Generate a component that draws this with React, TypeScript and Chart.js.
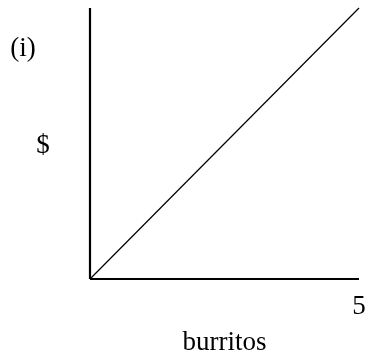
import React, { useEffect, useRef } from "react";
import { Chart, registerables } from "chart.js";

Chart.register(...registerables);

const quantity = [0, 5];
const cost = [0, 5];
const xTickLabel = "5";
const xTitle = "burritos";
const yTitle = "$";
const panelLabel = "(i)";

const FONT = "27px 'Liberation Serif', 'DejaVu Serif', serif";

const textPlugin = {
  id: "textLabels",
  afterDraw(chart: any) {
    const { ctx, chartArea, scales } = chart;
    const x = scales.x;
    ctx.save();
    ctx.fillStyle = "#000";
    ctx.font = FONT;
    ctx.textAlign = "center";
    ctx.textBaseline = "middle";
    ctx.fillText(xTickLabel, x.getPixelForValue(5), chartArea.bottom + 28);
    ctx.fillText(xTitle, (chartArea.left + chartArea.right) / 2, chartArea.bottom + 64);
    ctx.fillText(yTitle, chartArea.left - 47, chartArea.top + 138);
    ctx.fillText(panelLabel, chartArea.left - 67, chartArea.top + 41);
    ctx.restore();
  },
};

export default function App() {
  const ref = useRef<HTMLCanvasElement>(null);
  useEffect(() => {
    if (!ref.current) return;
    const chart = new Chart(ref.current, {
      type: "scatter",
      data: {
        datasets: [
          {
            data: quantity.map((q, i) => ({ x: q, y: cost[i] })),
            showLine: true,
            borderColor: "#000",
            borderWidth: 1.2,
            pointRadius: 0,
            clip: false as any,
          },
          {
            data: [
              { x: 0, y: 0 },
              { x: 0, y: 5 },
            ],
            showLine: true,
            borderColor: "#000",
            borderWidth: 2.2,
            pointRadius: 0,
            clip: false as any,
          },
          {
            data: [
              { x: 0, y: 0 },
              { x: 5, y: 0 },
            ],
            showLine: true,
            borderColor: "#000",
            borderWidth: 2.2,
            pointRadius: 0,
            clip: false as any,
          },
        ],
      },
      options: {
        animation: false,
        responsive: false,
        devicePixelRatio: 1,
        layout: { padding: { left: 90, right: 6, top: 8, bottom: 84 } },
        plugins: { legend: { display: false }, tooltip: { enabled: false } },
        scales: {
          x: { type: "linear", min: 0, max: 5, display: false },
          y: { type: "linear", min: 0, max: 5, display: false },
        },
      },
      plugins: [textPlugin],
    });
    return () => chart.destroy();
  }, []);
  return (
    <div style={{ position: "fixed", left: 0, top: 0, width: 365, height: 363, background: "#fff" }}>
      <canvas ref={ref} width={365} height={363} style={{ width: 365, height: 363 }} />
    </div>
  );
}
